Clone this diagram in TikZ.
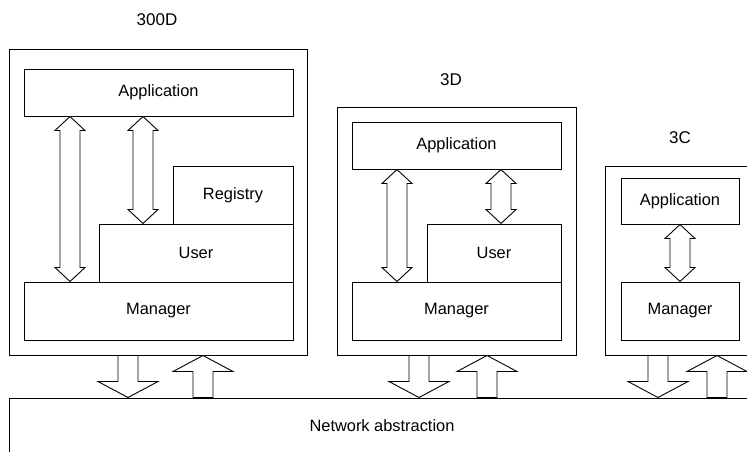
\documentclass[tikz,border=0pt]{standalone}
\usepackage{fontspec}
\setmainfont{Liberation Sans}
\usetikzlibrary{calc}
\tikzset{
  box/.style={draw, line width=1pt, inner sep=0pt, font=\fontsize{16.4}{20}\selectfont},
  lbl/.style={inner sep=0pt, font=\fontsize{17}{20}\selectfont},
  arr/.style={draw, line width=0.9pt, fill=white, line join=miter}
}
\newcommand\mkbox[6]{\node[box, minimum width={#4-#2}, minimum height={#5-#3}] (#1) at ({(#2+#4)/2},{(#3+#5)/2}) {#6};}
\newcommand\dblarr[3]{\draw[arr] let \p1=(#2), \p2=(#3) in
  (#1pt,\y1) -- (#1pt+15pt,\y1-14pt) -- (#1pt+10pt,\y1-14pt) -- (#1pt+10pt,\y2+14pt) -- (#1pt+15pt,\y2+14pt) -- (#1pt,\y2) -- (#1pt-15pt,\y2+14pt) -- (#1pt-10pt,\y2+14pt) -- (#1pt-10pt,\y1-14pt) -- (#1pt-15pt,\y1-14pt) -- cycle;}
\newcommand\arrdown[3]{\draw[arr] let \p1=(#2), \p2=(#3) in
  (#1pt-10pt,\y1) -- (#1pt+10pt,\y1) -- (#1pt+10pt,\y2+16pt) -- (#1pt+30pt,\y2+16pt) -- (#1pt,\y2) -- (#1pt-30pt,\y2+16pt) -- (#1pt-10pt,\y2+16pt) -- cycle;}
\newcommand\arrup[3]{\draw[arr] let \p1=(#2), \p2=(#3) in
  (#1pt-10pt,\y2) -- (#1pt-10pt,\y1-16pt) -- (#1pt-30pt,\y1-16pt) -- (#1pt,\y1) -- (#1pt+30pt,\y1-16pt) -- (#1pt+10pt,\y1-16pt) -- (#1pt+10pt,\y2) -- cycle;}
\begin{document}
\begin{tikzpicture}[x=1pt,y=-1pt]
\useasboundingbox (0,0) rectangle (747,451);
\clip (0,0) rectangle (747,451);
% labels
\node[lbl] (l1) at (157,20) {300D};
\node[lbl] (l2) at (451,80) {3D};
\node[lbl] (l3) at (680,138) {3C};
% outer boxes
\mkbox{o1}{9}{49}{307}{355}{}
\mkbox{o2}{337}{107}{576}{355}{}
\mkbox{o3}{605}{166}{780}{355}{}
% network
\mkbox{net}{9}{398}{780}{480}{}
\node[box, draw=none] (nettxt) at (382,426) {Network abstraction};
% 300D
\mkbox{app1}{24}{69}{293}{116}{Application}
\mkbox{reg1}{173}{166}{293}{224}{Registry}
\mkbox{user1}{99}{224}{293}{282}{User}
\mkbox{man1}{24}{282}{293}{340}{Manager}
% 3D
\mkbox{app2}{352}{122}{561}{169}{Application}
\mkbox{user2}{427}{224}{561}{282}{User}
\mkbox{man2}{352}{282}{561}{340}{Manager}
% 3C
\mkbox{app3}{621}{178}{739}{224}{Application}
\mkbox{man3}{621}{282}{739}{340}{Manager}
% inner double arrows
\dblarr{70}{app1.south}{man1.north}
\dblarr{143}{app1.south}{user1.north}
\dblarr{397}{app2.south}{man2.north}
\dblarr{501}{app2.south}{user2.north}
\dblarr{680}{app3.south}{man3.north}
% network arrows
\arrdown{128}{o1.south}{net.north}
\arrup{203}{o1.south}{net.north}
\arrdown{419}{o2.south}{net.north}
\arrup{487}{o2.south}{net.north}
\arrdown{658}{o3.south}{net.north}
\arrup{717}{o3.south}{net.north}
\end{tikzpicture}
\end{document}
